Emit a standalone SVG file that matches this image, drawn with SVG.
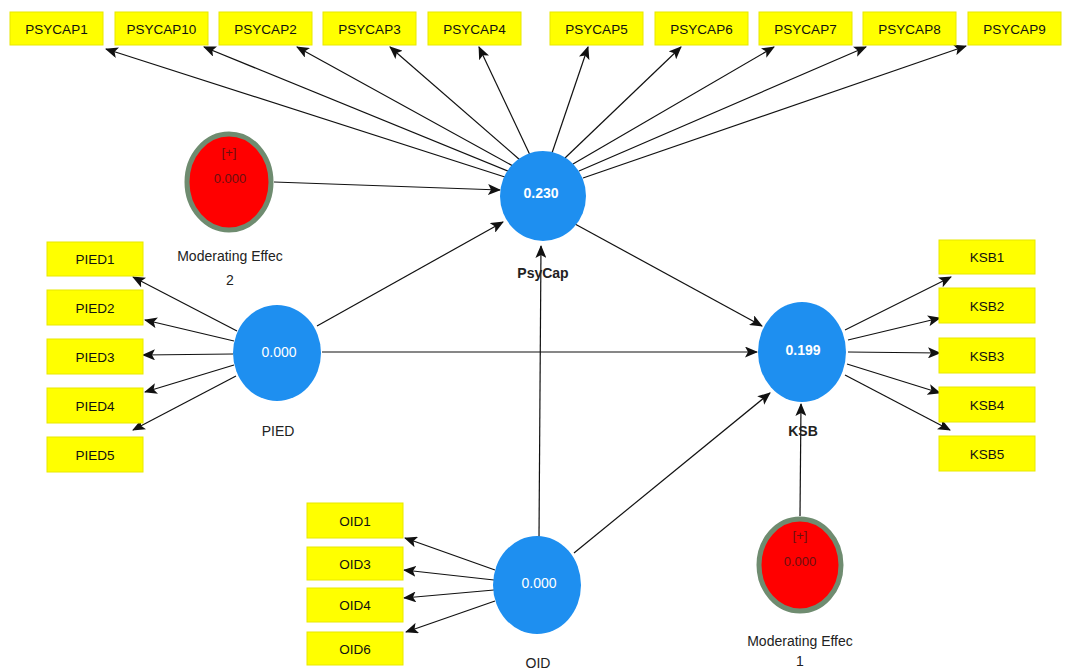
<svg xmlns="http://www.w3.org/2000/svg" width="1079" height="672" viewBox="0 0 1079 672">
<style>
.box{fill:#ffff00;stroke:#e8e800;stroke-width:1}
.bt{font-family:"Liberation Sans",Arial,sans-serif;font-size:13.5px;fill:#111;text-anchor:middle;dominant-baseline:central}
.lv{fill:#1e8ff0}
.lvt{font-family:"Liberation Sans",Arial,sans-serif;font-size:14px;fill:#fff;text-anchor:middle;dominant-baseline:central}
.me{fill:#ff0000;stroke:#6f8c70;stroke-width:5}
.met{font-family:"Liberation Sans",Arial,sans-serif;font-size:13px;fill:#6a1010;text-anchor:middle;dominant-baseline:central}
.lbl{font-family:"Liberation Sans",Arial,sans-serif;font-size:14px;fill:#222;text-anchor:middle;dominant-baseline:central}
.c line{stroke:#111;stroke-width:1.2;marker-end:url(#ah)}
</style>
<defs>
<marker id="ah" markerWidth="13" markerHeight="11" refX="12" refY="5.5" orient="auto" markerUnits="userSpaceOnUse">
<path d="M0,0 L13,5.5 L0,11 L3,5.5 Z" fill="#111"/>
</marker>
</defs>
<rect width="1079" height="672" fill="#fff"/>
<g class="c" id="connectors">
<line x1="508" y1="178" x2="106" y2="49"/>
<line x1="510" y1="172" x2="204" y2="47"/>
<line x1="513" y1="166" x2="297" y2="47"/>
<line x1="520" y1="160" x2="390" y2="47"/>
<line x1="530" y1="155" x2="479" y2="47"/>
<line x1="552" y1="153" x2="588" y2="47"/>
<line x1="565" y1="158" x2="681" y2="47"/>
<line x1="573" y1="164" x2="774" y2="47"/>
<line x1="579" y1="171" x2="866" y2="47"/>
<line x1="583" y1="178" x2="966" y2="46"/>
<line x1="274" y1="182" x2="500" y2="190"/>
<line x1="317" y1="326" x2="503" y2="222"/>
<line x1="322" y1="352" x2="757" y2="352"/>
<line x1="575" y1="224" x2="762" y2="326"/>
<line x1="539" y1="537" x2="541" y2="246"/>
<line x1="574" y1="553" x2="770" y2="393"/>
<line x1="800" y1="516" x2="801" y2="404"/>
<line x1="237" y1="331" x2="133" y2="277"/>
<line x1="234" y1="341" x2="145" y2="320"/>
<line x1="233" y1="354" x2="143" y2="355"/>
<line x1="234" y1="365" x2="145" y2="392"/>
<line x1="236" y1="376" x2="133" y2="430"/>
<line x1="845" y1="330" x2="951" y2="277"/>
<line x1="848" y1="340" x2="940" y2="318"/>
<line x1="848" y1="352" x2="940" y2="353"/>
<line x1="847" y1="364" x2="940" y2="393"/>
<line x1="845" y1="375" x2="950" y2="430"/>
<line x1="495" y1="570" x2="405" y2="538"/>
<line x1="494" y1="580" x2="404" y2="570"/>
<line x1="494" y1="590" x2="404" y2="598"/>
<line x1="495" y1="601" x2="406" y2="632"/>
</g>
<g id="PSYCAP1"><rect class="box" x="10" y="12" width="93" height="33"/><text class="bt" x="56.5" y="29">PSYCAP1</text></g>
<g id="PSYCAP10"><rect class="box" x="115" y="12" width="93" height="33"/><text class="bt" x="161.5" y="29">PSYCAP10</text></g>
<g id="PSYCAP2"><rect class="box" x="219" y="12" width="93" height="33"/><text class="bt" x="265.5" y="29">PSYCAP2</text></g>
<g id="PSYCAP3"><rect class="box" x="323" y="12" width="93" height="33"/><text class="bt" x="369.5" y="29">PSYCAP3</text></g>
<g id="PSYCAP4"><rect class="box" x="428" y="12" width="93" height="33"/><text class="bt" x="474.5" y="29">PSYCAP4</text></g>
<g id="PSYCAP5"><rect class="box" x="550" y="12" width="93" height="33"/><text class="bt" x="596.5" y="29">PSYCAP5</text></g>
<g id="PSYCAP6"><rect class="box" x="655" y="12" width="93" height="33"/><text class="bt" x="701.5" y="29">PSYCAP6</text></g>
<g id="PSYCAP7"><rect class="box" x="759" y="12" width="93" height="33"/><text class="bt" x="805.5" y="29">PSYCAP7</text></g>
<g id="PSYCAP8"><rect class="box" x="863" y="12" width="93" height="33"/><text class="bt" x="909.5" y="29">PSYCAP8</text></g>
<g id="PSYCAP9"><rect class="box" x="968" y="12" width="93" height="33"/><text class="bt" x="1014.5" y="29">PSYCAP9</text></g>
<g id="PIED1"><rect class="box" x="47" y="242" width="96" height="34"/><text class="bt" x="95" y="259">PIED1</text></g>
<g id="PIED2"><rect class="box" x="47" y="290" width="96" height="35"/><text class="bt" x="95" y="308">PIED2</text></g>
<g id="PIED3"><rect class="box" x="47" y="339" width="96" height="35"/><text class="bt" x="95" y="357">PIED3</text></g>
<g id="PIED4"><rect class="box" x="47" y="388" width="96" height="35"/><text class="bt" x="95" y="406">PIED4</text></g>
<g id="PIED5"><rect class="box" x="47" y="437" width="96" height="35"/><text class="bt" x="95" y="455">PIED5</text></g>
<g id="KSB1"><rect class="box" x="939" y="240" width="96" height="34"/><text class="bt" x="987" y="257">KSB1</text></g>
<g id="KSB2"><rect class="box" x="939" y="288" width="96" height="35"/><text class="bt" x="987" y="306">KSB2</text></g>
<g id="KSB3"><rect class="box" x="939" y="338" width="96" height="35"/><text class="bt" x="987" y="356">KSB3</text></g>
<g id="KSB4"><rect class="box" x="939" y="387" width="96" height="35"/><text class="bt" x="987" y="405">KSB4</text></g>
<g id="KSB5"><rect class="box" x="939" y="436" width="96" height="35"/><text class="bt" x="987" y="454">KSB5</text></g>
<g id="OID1"><rect class="box" x="307" y="503" width="96" height="35"/><text class="bt" x="355" y="521">OID1</text></g>
<g id="OID3"><rect class="box" x="307" y="547" width="96" height="33"/><text class="bt" x="355" y="564">OID3</text></g>
<g id="OID4"><rect class="box" x="307" y="588" width="96" height="34"/><text class="bt" x="355" y="605">OID4</text></g>
<g id="OID6"><rect class="box" x="307" y="632" width="96" height="33"/><text class="bt" x="355" y="649">OID6</text></g>
<g id="PsyCap"><ellipse class="lv" cx="543" cy="196" rx="43" ry="45"/><text class="lvt" x="541" y="193" font-weight="bold">0.230</text><text class="lbl" x="543" y="273" font-weight="bold">PsyCap</text></g>
<g id="PIED"><ellipse class="lv" cx="277" cy="353" rx="44" ry="48"/><text class="lvt" x="279" y="352">0.000</text><text class="lbl" x="278" y="431">PIED</text></g>
<g id="KSB"><ellipse class="lv" cx="802" cy="352" rx="44" ry="50"/><text class="lvt" x="803" y="350" font-weight="bold">0.199</text><text class="lbl" x="803" y="431" font-weight="bold">KSB</text></g>
<g id="OID"><ellipse class="lv" cx="537" cy="585" rx="44" ry="49"/><text class="lvt" x="539" y="583">0.000</text><text class="lbl" x="538" y="663">OID</text></g>
<g id="ModeratingEffect2"><ellipse class="me" cx="229" cy="182" rx="42" ry="48"/><text class="met" x="229" y="152">[+]</text><text class="met" x="230" y="178">0.000</text><text class="lbl" x="230" y="256">Moderating Effec</text><text class="lbl" x="230" y="280">2</text></g>
<g id="ModeratingEffect1"><ellipse class="me" cx="800" cy="565" rx="41" ry="46"/><text class="met" x="800" y="535">[+]</text><text class="met" x="800" y="561">0.000</text><text class="lbl" x="800" y="641">Moderating Effec</text><text class="lbl" x="800" y="661">1</text></g>
</svg>
